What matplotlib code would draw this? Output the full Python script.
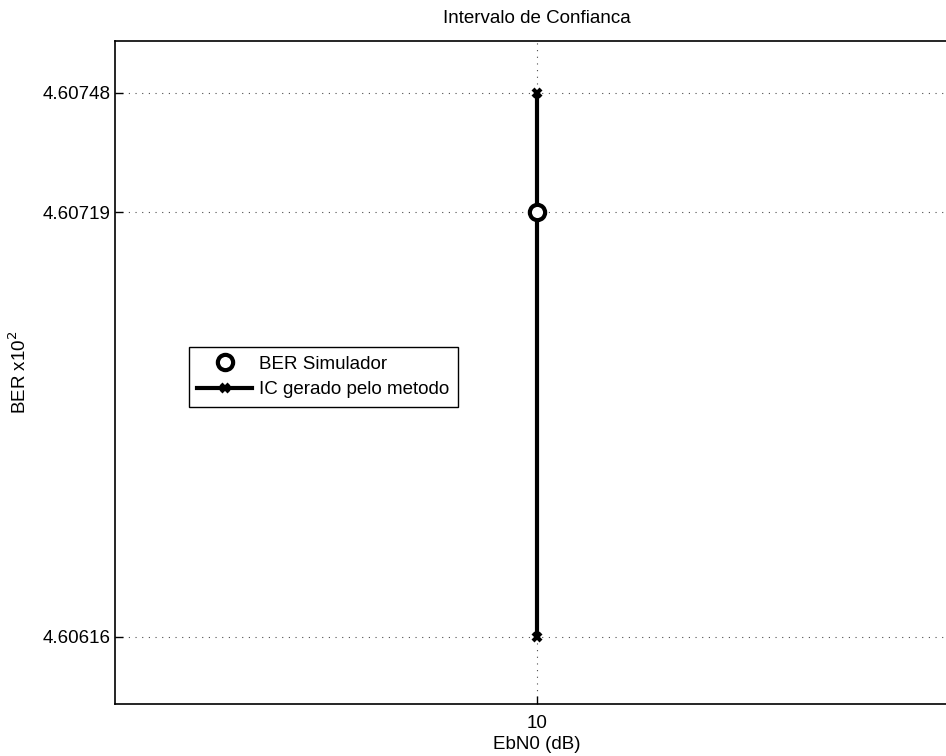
import matplotlib
matplotlib.use('Agg')
import matplotlib.pyplot as plt

plt.rcParams['font.family'] = ['Liberation Sans', 'DejaVu Sans']

# data (BER x10^2)
ebn0 = [10]
ber_sim = [4.60719]
ic_x = [10, 10]
ic_y = [4.60616, 4.60748]
yticks = [4.60616, 4.60719, 4.60748]
ytick_labels = ['4.60616', '4.60719', '4.60748']

fs = 13.5

fig = plt.figure(figsize=(9.46, 7.56), dpi=100)
W, H = 946, 756
# axes right edge runs off the figure like the original
ax = fig.add_axes([115 / W, 1 - 704 / H, (959 - 115) / W, (704 - 41) / H])

ax.plot(ic_x, ic_y, color='black', lw=3, marker='x', ms=6, mew=3,
        label='IC gerado pelo metodo', zorder=3)
ax.plot(ebn0, ber_sim, ls='none', marker='o', ms=11, mew=3,
        mfc='white', mec='black', label='BER Simulador', zorder=4)

ax.set_xlim(9, 11)
ax.set_ylim(4.605997, 4.607606)
ax.set_xticks(ebn0)
ax.set_xticklabels(['10'])
ax.set_yticks(yticks)
ax.set_yticklabels(ytick_labels)
ax.tick_params(direction='in', length=6, labelsize=fs, width=1)
ax.tick_params(axis='x', pad=8)
ax.grid(True, ls=(0, (1, 5)), color='black', lw=0.8, alpha=0.7)
for s in ax.spines.values():
    s.set_linewidth(1.2)

ax.set_title('Intervalo de Confianca', fontsize=fs, pad=13)
ax.set_xlabel('EbN0 (dB)', fontsize=fs, labelpad=3)
ax.set_ylabel('BER x10$^2$', fontsize=fs, labelpad=9)

h, l = ax.get_legend_handles_labels()
leg = ax.legend(h[::-1], l[::-1], loc='upper left',
                bbox_to_anchor=(189 / W, 1 - 347 / H), bbox_transform=fig.transFigure,
                borderaxespad=0, fontsize=fs, fancybox=False, edgecolor='black',
                framealpha=1, borderpad=0.45, handlelength=2.9, handletextpad=0.4,
                labelspacing=0.45)
leg.get_frame().set_linewidth(1)

fig.savefig('out.png', dpi=100)
